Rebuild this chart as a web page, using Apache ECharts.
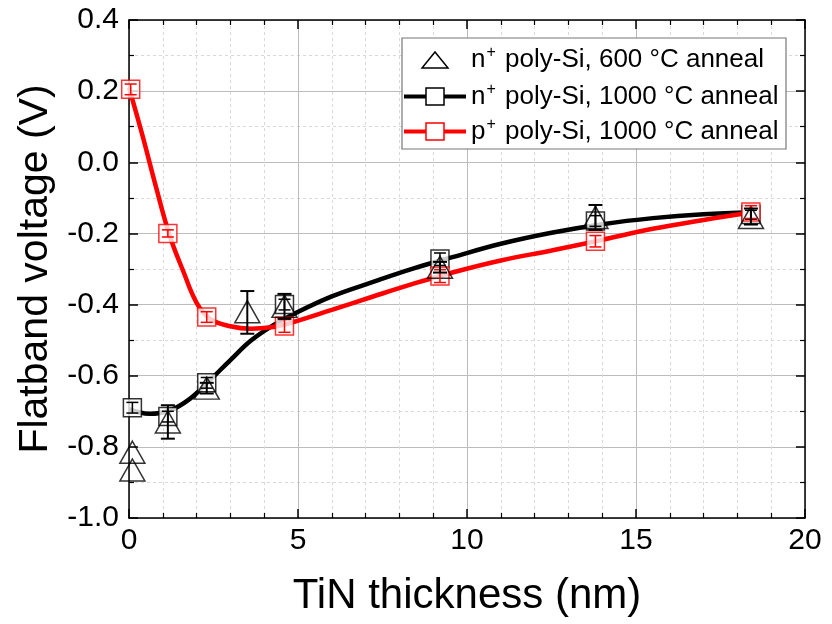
<!DOCTYPE html>
<html><head><meta charset="utf-8">
<script src="https://cdn.jsdelivr.net/npm/echarts@6/dist/echarts.min.js"></script>
<style>html,body{margin:0;padding:0;background:#fff}#c{width:832px;height:624px}</style>
</head><body><div id="c"></div>
<script>
// ---- data ----
const xAxisTitle = 'TiN thickness (nm)';
const yAxisTitle = 'Flatband voltage (V)';
const seriesNames = ['n+ poly-Si, 600 °C anneal', 'n+ poly-Si, 1000 °C anneal', 'p+ poly-Si, 1000 °C anneal'];

// n+ poly-Si, 600 °C anneal (triangles)
const triX  = [0.1, 0.1, 1.15, 2.3, 3.5, 4.6, 9.2, 13.8, 18.4];
const triY  = [-0.815, -0.865, -0.73, -0.635, -0.42, -0.405, -0.295, -0.155, -0.155];
const triLo = [-0.815, -0.865, -0.777, -0.65, -0.482, -0.44, -0.31, -0.19, -0.175];
const triHi = [-0.815, -0.865, -0.683, -0.62, -0.362, -0.37, -0.28, -0.12, -0.13];

// n+ poly-Si, 1000 °C anneal (black squares)
const nX  = [0.1, 1.15, 2.3, 4.6, 9.2, 13.8, 18.4];
const nY  = [-0.69, -0.715, -0.62, -0.40, -0.272, -0.165, -0.147];
const nLo = [-0.705, -0.73, -0.635, -0.415, -0.29, -0.18, -0.16];
const nHi = [-0.675, -0.70, -0.605, -0.385, -0.255, -0.15, -0.135];
// black fitted curve
const nFitX = [0, 0.6, 1.2, 1.8, 2.4, 3.0, 3.6, 4.2, 4.8, 6.0, 7.2, 8.4, 9.6, 11.0, 12.5, 14.0, 15.5, 17.0, 18.4];
const nFitY = [-0.694, -0.707, -0.698, -0.665, -0.612, -0.556, -0.502, -0.462, -0.43, -0.377, -0.337, -0.299, -0.266, -0.229, -0.198, -0.174, -0.157, -0.146, -0.141];

// p+ poly-Si, 1000 °C anneal (red squares)
const pX  = [0.05, 1.15, 2.3, 4.6, 9.2, 13.8, 18.4];
const pY  = [0.205, -0.20, -0.435, -0.46, -0.32, -0.222, -0.14];
const pLo = [0.19, -0.21, -0.45, -0.478, -0.338, -0.238, -0.158];
const pHi = [0.22, -0.19, -0.42, -0.442, -0.302, -0.206, -0.122];
// red fitted curve
const pFitX = [0, 0.4, 0.8, 1.2, 1.6, 2.0, 2.4, 3.0, 3.6, 4.2, 4.8, 6.0, 7.2, 8.4, 9.6, 11.0, 12.5, 14.0, 15.5, 17.0, 18.4];
const pFitY = [0.21, 0.075, -0.07, -0.205, -0.305, -0.395, -0.44, -0.461, -0.468, -0.464, -0.451, -0.415, -0.378, -0.342, -0.309, -0.276, -0.248, -0.218, -0.187, -0.162, -0.141];

// ---- chart ----
const FONT = 'Liberation Sans, Arial, sans-serif';
const zip = (a, b) => a.map((v, i) => [v, b[i]]);
const zip3 = (a, b, c) => a.map((v, i) => [v, b[i], c[i]]);

function errSeries(xs, lo, hi, color, capW, lw, z) {
  return {
    type: 'custom', z: z, silent: true, clip: false,
    encode: {x: 0, y: [1, 2]},
    data: zip3(xs, lo, hi),
    renderItem(params, api) {
      const p1 = api.coord([api.value(0), api.value(1)]);
      const p2 = api.coord([api.value(0), api.value(2)]);
      if (Math.abs(p1[1] - p2[1]) < 1) return {type: 'group', children: []};
      const st = {stroke: color, lineWidth: lw, fill: null};
      return {type: 'group', children: [
        {type: 'line', shape: {x1: p1[0], y1: p1[1], x2: p2[0], y2: p2[1]}, style: st},
        {type: 'line', shape: {x1: p1[0] - capW / 2, y1: p1[1], x2: p1[0] + capW / 2, y2: p1[1]}, style: st},
        {type: 'line', shape: {x1: p2[0] - capW / 2, y1: p2[1], x2: p2[0] + capW / 2, y2: p2[1]}, style: st}
      ]};
    }
  };
}

const axisLineStyle = {color: '#000', width: 1.5};
function xAx(pos, main) {
  return {
    type: 'value', min: 0, max: 20, interval: 5, position: pos,
    axisLine: {show: true, onZero: false, lineStyle: axisLineStyle},
    axisTick: {show: true, inside: true, length: 9, lineStyle: {color: '#000', width: 1.5}},
    minorTick: {show: true, splitNumber: 5, length: 5, lineStyle: {color: '#000', width: 1.2}},
    splitLine: {show: main, lineStyle: {color: '#bcbcbc', width: 1}},
    minorSplitLine: {show: main, lineStyle: {color: '#d9d9d9', width: 1, type: [3, 3]}},
    axisLabel: {show: main, fontSize: 30, color: '#000', margin: 8, fontFamily: FONT},
    name: main ? xAxisTitle : '', nameLocation: 'middle', nameGap: 57,
    nameTextStyle: {fontSize: 42, color: '#000', fontFamily: FONT}
  };
}
function yAx(pos, main) {
  return {
    type: 'value', min: -1.0, max: 0.4, interval: 0.2, position: pos,
    axisLine: {show: true, onZero: false, lineStyle: axisLineStyle},
    axisTick: {show: true, inside: true, length: 9, lineStyle: {color: '#000', width: 1.5}},
    minorTick: {show: true, splitNumber: 2, length: 5, lineStyle: {color: '#000', width: 1.2}},
    splitLine: {show: main, lineStyle: {color: '#bcbcbc', width: 1}},
    minorSplitLine: {show: main, lineStyle: {color: '#d9d9d9', width: 1, type: [3, 3]}},
    axisLabel: {show: main, fontSize: 30, color: '#000', margin: 10, fontFamily: FONT,
      formatter: v => v.toFixed(1)},
    name: main ? yAxisTitle : '', nameLocation: 'middle', nameGap: 71, nameRotate: 90,
    nameTextStyle: {fontSize: 41, color: '#000', fontFamily: FONT}
  };
}

const chart = echarts.init(document.getElementById('c'), null, {renderer: 'canvas'});

// legend (drawn as graphic, positions in px)
const legX = 402, legY = 38, legW = 384, legH = 111;
const rowY = [60, 96.5, 131.5];
const richStyle = {
  a: {fontSize: 26, fontFamily: FONT, color: '#000'},
  s: {fontSize: 16, fontFamily: FONT, color: '#000', padding: [0, 2, 14, 1]}
};
function legText(name, y) {
  const head = name.slice(0, 1), rest = name.slice(2);
  return {type: 'text', left: 471, top: y - 15, z: 100,
    style: {text: '{a|' + head + '}{s|+}{a|' + rest + '}', rich: richStyle}};
}

const option = {
  animation: false,
  backgroundColor: '#fff',
  grid: {left: 129, right: 27, top: 20, bottom: 106, containLabel: false},
  xAxis: [xAx('bottom', true), xAx('top', false)],
  yAxis: [yAx('left', true), yAx('right', false)],
  series: [
    {name: seriesNames[1] + ' fit', type: 'line', data: zip(nFitX, nFitY), smooth: 0.4, showSymbol: false,
      lineStyle: {color: '#000', width: 4.5}, z: 2},
    {name: seriesNames[2] + ' fit', type: 'line', data: zip(pFitX, pFitY), smooth: 0.4, showSymbol: false,
      lineStyle: {color: '#ff0000', width: 4.5}, z: 2},
    {name: seriesNames[1], type: 'scatter', data: zip(nX, nY), symbol: 'rect', symbolSize: [18, 18],
      itemStyle: {color: '#fff', borderColor: '#000', borderWidth: 1.5}, z: 3},
    {name: seriesNames[2], type: 'scatter', data: zip(pX, pY), symbol: 'rect', symbolSize: [18, 18],
      itemStyle: {color: '#fff', borderColor: '#ff0000', borderWidth: 1.5}, z: 4},
    {name: seriesNames[0], type: 'scatter', data: zip(triX, triY), symbol: 'triangle', symbolSize: [25, 22],
      itemStyle: {color: 'rgba(255,255,255,0)', borderColor: '#000', borderWidth: 1.5}, z: 5},
    errSeries(nX, nLo, nHi, '#000', 12, 1.5, 6),
    errSeries(pX, pLo, pHi, '#ff0000', 12, 1.5, 7),
    errSeries(triX, triLo, triHi, '#000', 14, 2, 8)
  ],
  graphic: [
    {type: 'rect', shape: {x: legX, y: legY, width: legW, height: legH}, z: 90,
      style: {fill: '#fff', stroke: '#777', lineWidth: 1.2}},
    {type: 'polygon', z: 100, shape: {points: [[422, 68], [448, 68], [435, 52]]},
      style: {fill: '#fff', stroke: '#000', lineWidth: 1.5}},
    {type: 'line', z: 99, shape: {x1: 404, y1: rowY[1], x2: 466, y2: rowY[1]}, style: {stroke: '#000', lineWidth: 4}},
    {type: 'rect', z: 100, shape: {x: 426, y: rowY[1] - 8.5, width: 18, height: 17}, style: {fill: '#fff', stroke: '#000', lineWidth: 1.5}},
    {type: 'line', z: 99, shape: {x1: 404, y1: rowY[2], x2: 466, y2: rowY[2]}, style: {stroke: '#ff0000', lineWidth: 4}},
    {type: 'rect', z: 100, shape: {x: 426, y: rowY[2] - 8.5, width: 18, height: 17}, style: {fill: '#fff', stroke: '#ff0000', lineWidth: 1.5}},
    legText(seriesNames[0], rowY[0]),
    legText(seriesNames[1], rowY[1]),
    legText(seriesNames[2], rowY[2])
  ]
};
chart.setOption(option);
</script>
</body></html>
